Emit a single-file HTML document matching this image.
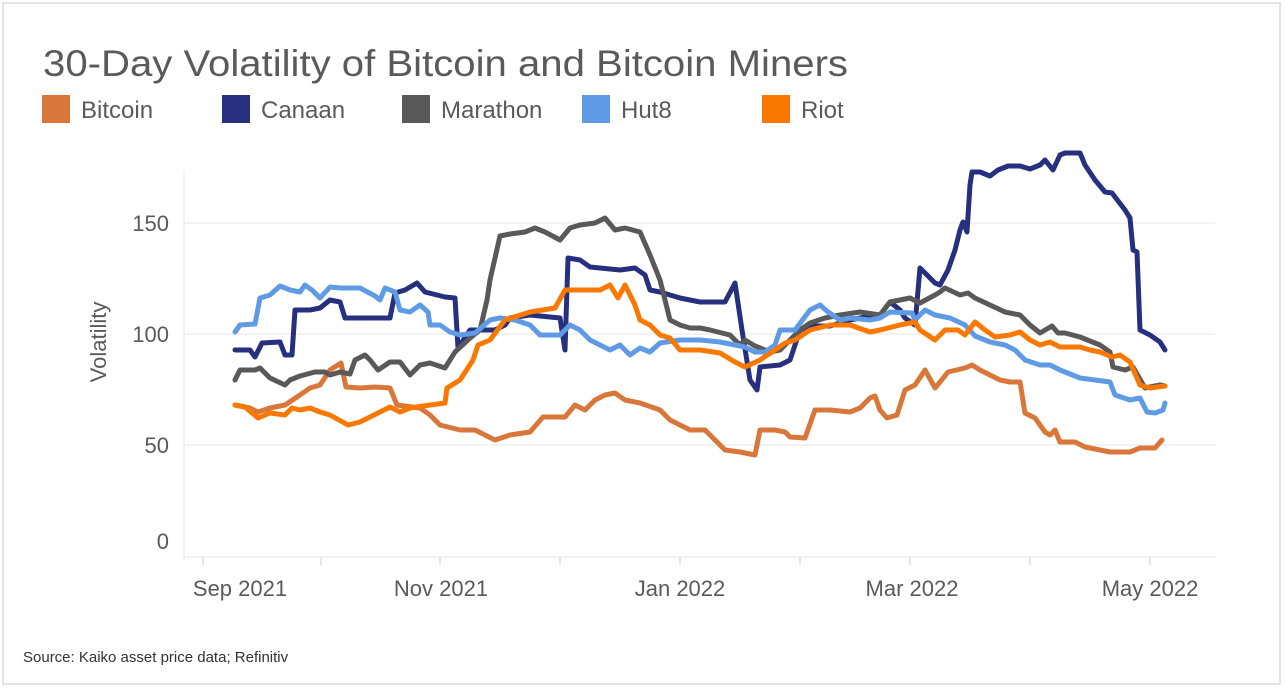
<!DOCTYPE html>
<html><head><meta charset="utf-8"><style>
html,body{margin:0;padding:0;background:#fff}
svg{display:block}
text{font-family:"Liberation Sans",sans-serif}
</style></head><body>
<svg width="1285" height="690" viewBox="0 0 1285 690" xmlns="http://www.w3.org/2000/svg">
<rect x="3" y="3" width="1277" height="681" fill="#fff" stroke="#e4e4e4" stroke-width="2"/>
<text x="43" y="76" font-size="37" fill="#5a5a5a" textLength="805" lengthAdjust="spacingAndGlyphs">30-Day Volatility of Bitcoin and Bitcoin Miners</text>
<g font-size="24" fill="#5a5a5a">
<rect x="42" y="95" width="28" height="28" fill="#d9773a"/><text x="81" y="118">Bitcoin</text>
<rect x="222" y="95" width="28" height="28" fill="#26307f"/><text x="261" y="118">Canaan</text>
<rect x="402" y="95" width="28" height="28" fill="#595959"/><text x="441" y="118">Marathon</text>
<rect x="582" y="95" width="28" height="28" fill="#5f9ae5"/><text x="621" y="118">Hut8</text>
<rect x="762" y="95" width="28" height="28" fill="#fb7800"/><text x="801" y="118">Riot</text>
</g>
<g stroke="#eeeeee" stroke-width="1.5">
<line x1="184" y1="223" x2="1215" y2="223"/>
<line x1="184" y1="334" x2="1215" y2="334"/>
<line x1="184" y1="445" x2="1215" y2="445"/>
<line x1="184" y1="557" x2="1215" y2="557"/>
<line x1="184" y1="170" x2="184" y2="560"/>
</g>
<g stroke="#dddddd" stroke-width="1.5">
<line x1="203" y1="557" x2="203" y2="565"/><line x1="321" y1="557" x2="321" y2="565"/>
<line x1="440" y1="557" x2="440" y2="565"/><line x1="560" y1="557" x2="560" y2="565"/>
<line x1="680" y1="557" x2="680" y2="565"/><line x1="800" y1="557" x2="800" y2="565"/>
<line x1="910" y1="557" x2="910" y2="565"/><line x1="1030" y1="557" x2="1030" y2="565"/>
<line x1="1150" y1="557" x2="1150" y2="565"/>
</g>
<g font-size="22" fill="#5a5a5a" text-anchor="end">
<text x="169" y="231">150</text><text x="169" y="342">100</text><text x="169" y="453">50</text><text x="169" y="549">0</text>
</g>
<text transform="translate(106,342) rotate(-90)" font-size="22" fill="#5a5a5a" text-anchor="middle">Volatility</text>
<g font-size="22" fill="#5a5a5a" text-anchor="middle">
<text x="240" y="596">Sep 2021</text><text x="441" y="596">Nov 2021</text><text x="680" y="596">Jan 2022</text><text x="912" y="596">Mar 2022</text><text x="1150" y="596">May 2022</text>
</g>
<text x="23" y="662" font-size="15" fill="#333">Source: Kaiko asset price data; Refinitiv</text>
<g fill="none" stroke-width="5" stroke-linejoin="round" stroke-linecap="round">
<polyline stroke="#d9773a" points="235,405 250,408 258,412 270,408 285,405 300,395 310,388 320,385 330,370 341,363 346,387 360,388 375,387 390,388 397,405 420,408 430,415 440,425 460,430 475,430 495,440 510,435 530,432 543,417 565,417 575,405 585,410 595,400 605,395 615,393 625,400 640,403 660,410 670,420 680,425 690,430 705,430 715,440 725,450 740,452 755,455 760,430 775,430 785,432 790,437 805,438 815,410 830,410 850,412 860,408 870,398 875,396 880,410 887,418 897,415 905,390 915,385 925,370 935,388 940,382 948,372 965,368 972,365 980,370 990,375 1000,380 1010,382 1020,382 1025,413 1035,418 1045,432 1050,435 1055,430 1060,442 1075,442 1085,447 1100,450 1110,452 1130,452 1140,448 1155,448 1162,440"/>
<polyline stroke="#26307f" points="235,350 250,350 255,357 262,343 280,342 285,355 292,355 295,310 310,310 320,308 330,300 340,302 345,318 355,318 390,318 395,293 405,290 417,283 425,292 445,297 455,298 458,348 470,330 495,330 505,325 510,318 530,315 560,318 565,350 568,258 580,260 590,267 620,270 635,268 645,275 650,290 660,292 680,298 700,302 725,302 735,283 742,330 750,380 757,390 760,367 780,365 790,360 800,330 810,326 830,326 850,320 870,316 880,315 890,302 900,310 905,318 915,325 920,268 935,283 940,285 948,270 955,250 960,230 963,222 967,232 970,185 972,172 980,172 990,176 998,170 1008,166 1020,166 1030,169 1040,165 1045,160 1053,170 1060,155 1065,153 1080,153 1085,165 1095,180 1105,192 1112,193 1125,210 1130,218 1133,250 1137,252 1140,330 1150,335 1160,342 1165,350"/>
<polyline stroke="#595959" points="235,380 240,370 255,370 260,368 270,378 285,385 290,380 300,376 315,372 325,372 330,375 340,372 350,374 355,360 365,355 370,360 378,370 390,362 400,362 410,375 420,365 430,363 445,368 455,352 470,338 480,330 487,300 490,280 500,236 510,234 525,232 535,228 545,232 560,240 570,228 580,225 595,223 605,218 615,230 625,228 640,232 650,255 660,280 670,320 680,325 690,328 700,328 710,330 730,335 740,345 745,340 755,346 765,350 770,352 780,350 785,345 800,330 810,323 825,318 840,315 860,312 880,315 890,302 910,298 920,303 935,295 940,292 945,288 960,295 968,293 975,298 990,305 1005,312 1020,315 1030,325 1040,333 1052,326 1058,333 1065,333 1080,337 1100,345 1110,352 1113,367 1125,370 1133,367 1145,388 1160,385 1165,386"/>
<polyline stroke="#5f9ae5" points="235,332 240,325 255,324 260,298 270,295 280,286 290,290 300,292 305,285 312,290 320,298 330,287 340,288 360,288 375,296 380,300 385,288 395,292 400,310 410,312 420,305 428,312 430,325 440,325 450,332 460,335 475,333 490,320 500,318 515,320 530,325 540,335 560,335 570,325 580,330 590,340 600,345 610,350 620,345 630,355 640,348 650,352 660,343 680,340 700,340 720,342 735,345 745,347 755,352 765,352 775,345 780,330 795,330 810,310 820,305 828,312 840,320 850,318 870,320 880,318 890,312 912,313 915,320 925,310 935,315 950,318 965,325 975,336 990,342 1005,345 1015,350 1025,360 1040,365 1050,365 1060,370 1080,378 1110,382 1115,395 1130,400 1140,398 1147,412 1155,413 1163,410 1165,403"/>
<polyline stroke="#fb7800" points="235,405 245,407 258,418 270,413 285,415 292,408 300,410 310,408 320,412 330,415 348,425 360,422 380,412 390,407 400,412 410,408 430,405 445,403 447,388 460,380 473,360 478,345 490,340 505,320 530,312 555,308 565,290 600,290 610,285 618,298 625,285 635,305 640,320 650,325 660,335 670,338 680,350 700,350 720,353 735,362 745,367 760,360 775,350 785,343 795,340 810,330 830,325 850,325 870,332 880,330 900,325 915,322 920,330 935,340 945,330 958,330 965,335 975,322 985,330 995,337 1010,335 1020,332 1030,340 1040,345 1050,342 1060,347 1080,347 1090,350 1100,352 1112,357 1120,355 1130,362 1140,385 1150,388 1165,386"/>
</g>
</svg>
</body></html>
